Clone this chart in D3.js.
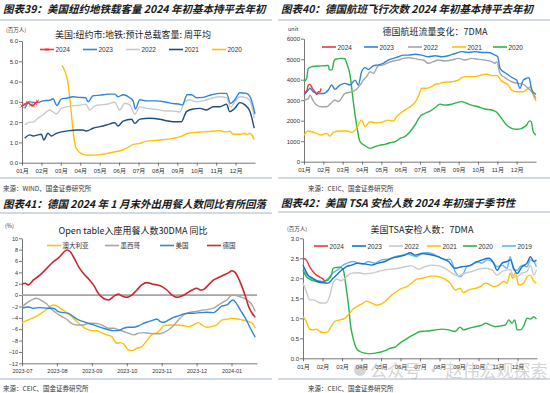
<!DOCTYPE html>
<html>
<head>
<meta charset="utf-8">
<script src="https://cdn.jsdelivr.net/npm/d3@7/dist/d3.min.js"></script>
<style>
  body { margin: 0; background: #fff; }
  svg { display: block; font-family: "Liberation Sans", "Noto Sans CJK SC", sans-serif; }
</style>
</head>
<body>
<svg width="550" height="393"></svg>
<script>
// ---- data (x = months from start of window, y = value) ----
const monthLabels = ["01月","02月","03月","04月","05月","06月","07月","08月","09月","10月","11月","12月"];
const dineLabels = ["2023-07","2023-08","2023-09","2023-10","2023-11","2023-12","2024-01"];

// 图表39 NYC subway, 百万人
const subway2024 = [[0,2.8],[0.15,2.88],[0.3,2.97],[0.45,2.85],[0.57,2.82],[0.68,2.92],[0.8,3.03]];
const subway2023 = [[0.14,2.68],[0.4,3.0],[0.74,2.95],[1.08,3.05],[1.43,3.08],[1.6,3.15],[1.8,2.82],[2.03,3.15],[2.29,3.18],[2.63,3.25],[2.97,3.22],[3.28,3.2],[3.4,3.0],[3.66,3.3],[4.02,3.33],[4.43,3.38],[4.78,3.38],[4.95,3.25],[5.21,3.35],[5.55,3.2],[5.72,3.05],[5.84,2.65],[6.07,3.1],[6.41,3.05],[6.92,3.05],[7.44,2.98],[7.78,2.92],[8.13,2.88],[8.26,2.85],[8.51,3.35],[8.73,3.35],[8.99,3.2],[9.33,3.22],[9.76,3.35],[10.19,3.42],[10.53,3.42],[10.74,2.92],[10.96,3.1],[11.22,3.45],[11.56,3.42],[11.77,3.2],[12,2.4]];
const subway2022 = [[0.14,1.86],[0.4,2.0],[0.57,2.0],[0.82,2.2],[1.08,2.35],[1.43,2.6],[1.6,2.5],[1.77,2.4],[2.03,2.68],[2.29,2.75],[2.63,2.8],[3.06,2.85],[3.28,2.88],[3.49,2.6],[3.75,2.8],[4.02,2.85],[4.35,2.88],[4.78,2.98],[5.03,2.6],[5.29,2.93],[5.55,2.85],[5.81,2.4],[6.07,2.75],[6.41,2.68],[6.92,2.63],[7.44,2.55],[7.78,2.55],[8.13,2.5],[8.38,3.0],[8.64,3.1],[8.99,3.0],[9.33,3.05],[9.76,3.18],[10.19,3.25],[10.53,3.2],[10.74,2.75],[10.96,3.0],[11.22,3.25],[11.56,3.2],[11.77,3.0],[11.96,2.2]];
const subway2021 = [[0.14,1.2],[0.4,1.37],[0.57,1.32],[0.82,1.37],[1.0,1.4],[1.12,1.12],[1.34,1.45],[1.51,1.32],[1.77,1.45],[2.11,1.53],[2.46,1.58],[2.8,1.61],[3.14,1.61],[3.32,1.56],[3.66,1.7],[4.02,1.78],[4.35,1.86],[4.78,1.97],[4.95,1.81],[5.21,2.05],[5.64,2.14],[5.81,1.94],[6.07,2.15],[6.58,2.19],[7.1,2.14],[7.44,2.07],[7.78,2.02],[8.21,2.02],[8.47,2.52],[8.81,2.65],[9.16,2.68],[9.5,2.6],[9.85,2.76],[10.19,2.76],[10.53,2.88],[10.7,2.52],[10.96,2.68],[11.22,2.96],[11.48,2.85],[11.74,2.52],[11.96,1.7]];
const subway2020 = [[2.06,4.8],[2.34,4.1],[2.77,0.75],[3.06,0.45],[3.4,0.37],[4.02,0.4],[4.35,0.45],[4.86,0.55],[5.12,0.6],[5.46,0.75],[5.72,0.9],[6.07,0.95],[6.41,1.05],[6.92,1.1],[7.44,1.15],[7.78,1.2],[8.21,1.3],[8.56,1.45],[8.99,1.5],[9.33,1.52],[9.76,1.55],[10.19,1.58],[10.45,1.52],[10.7,1.55],[10.88,1.4],[11.22,1.4],[11.48,1.45],[11.56,1.38],[11.74,1.45],[11.96,1.15]];

// 图表40 German flights, 7DMA
const flights2024 = [[0,3370],[0.14,3450],[0.22,3740],[0.31,3770],[0.43,3580],[0.57,3410],[0.66,3280],[0.74,3410],[0.83,3410],[0.88,3580]];
const flights2023 = [[0,3250],[0.22,3500],[0.31,3580],[0.48,3410],[0.74,3330],[1.0,3330],[1.26,3500],[1.43,3740],[1.6,3530],[1.86,3740],[2.12,3820],[2.38,3740],[2.64,3980],[2.81,3740],[2.98,4390],[3.16,4590],[3.33,4500],[3.59,4680],[3.84,4720],[4.1,4800],[4.36,4960],[4.62,5040],[4.88,5120],[5.14,5200],[5.4,5200],[5.74,5240],[6.09,5200],[6.43,5120],[6.78,5170],[7.12,5120],[7.47,5170],[7.81,5280],[8.16,5370],[8.5,5330],[8.84,5370],[9.19,5330],[9.53,5330],[9.88,5200],[10.02,5120],[10.14,4550],[10.4,4340],[10.57,4230],[10.83,4070],[11.0,3980],[11.17,3580],[11.34,3980],[11.52,4070],[11.64,4100],[11.78,3500],[12,3280]];
const flights2022 = [[0,3010],[0.22,3060],[0.31,3250],[0.48,2960],[0.66,2760],[0.91,2680],[1.17,2680],[1.43,2890],[1.6,3010],[1.78,2930],[2.12,3330],[2.47,3410],[2.72,3530],[2.9,3740],[3.07,3980],[3.24,4150],[3.41,4390],[3.59,4310],[3.84,4680],[4.1,4720],[4.36,4830],[4.62,4910],[4.88,4960],[5.14,5040],[5.4,5070],[5.66,5040],[5.91,4990],[6.17,4960],[6.43,4800],[6.69,4880],[6.95,4960],[7.29,4910],[7.64,4960],[7.98,5040],[8.33,4960],[8.67,5040],[9.02,4990],[9.36,4960],[9.71,4880],[9.88,4800],[9.97,4880],[10.14,4310],[10.4,4100],[10.74,3900],[11.09,3820],[11.34,3770],[11.6,3580],[11.78,3410],[12,3090]];
const flights2021 = [[0,1300],[0.22,1500],[0.4,1460],[0.66,1380],[0.91,1300],[1.17,1380],[1.34,1250],[1.52,1430],[1.86,1500],[2.21,1500],[2.47,1430],[2.72,1630],[2.98,2030],[3.16,1710],[3.41,1950],[3.67,1900],[4.02,1920],[4.36,2030],[4.62,1980],[4.79,2200],[5.05,2410],[5.4,2630],[5.74,2890],[5.91,3170],[6.09,3580],[6.34,3580],[6.6,3660],[6.78,3770],[7.03,3820],[7.21,3870],[7.64,3900],[7.98,3980],[8.16,4100],[8.41,4150],[8.84,4150],[9.19,4230],[9.45,4280],[9.71,4200],[9.97,4200],[10.22,3930],[10.57,3740],[10.74,3500],[11.0,3410],[11.34,3410],[11.6,3580],[11.74,3660],[11.86,3250],[12,2960]];
const flights2020 = [[0,3900],[0.14,4070],[0.22,4550],[0.4,4630],[0.74,4670],[1.09,4680],[1.26,4700],[1.31,4480],[1.45,4480],[1.55,4900],[1.62,5000],[1.95,5040],[2.12,5020],[2.21,4800],[2.38,4230],[2.55,2930],[2.72,1790],[2.9,975],[3.16,780],[3.41,650],[3.67,730],[3.93,810],[4.19,845],[4.45,925],[4.71,975],[4.97,1140],[5.22,1220],[5.48,1460],[5.74,1790],[6.0,2200],[6.26,2360],[6.52,2470],[6.78,2630],[7.03,2810],[7.29,2760],[7.64,2800],[7.9,2880],[8.16,2930],[8.41,2850],[8.67,2760],[9.02,2680],[9.36,2570],[9.71,2520],[9.97,2410],[10.22,2110],[10.48,1790],[10.74,1630],[11.0,1580],[11.26,1630],[11.52,1790],[11.64,1980],[11.74,1980],[11.86,1460],[12,1300]];

// 图表41 OpenTable seated diners, 30DMA yoy %
const dineAustralia = [[0,-4.84],[0.18,-4.37],[0.33,-3.96],[0.52,-3.31],[0.71,-2.5],[0.8,-2.0],[0.9,-1.73],[0.99,-1.9],[1.14,-2.5],[1.28,-3.08],[1.42,-3.78],[1.57,-4.66],[1.71,-5.4],[1.85,-6.0],[2.0,-6.25],[2.14,-6.25],[2.28,-6.6],[2.43,-7.0],[2.57,-7.3],[2.72,-8.5],[2.81,-8.36],[2.91,-8.6],[3.05,-9.65],[3.15,-9.77],[3.29,-9.35],[3.43,-9.06],[3.58,-8.0],[3.72,-6.9],[3.86,-6.6],[3.96,-6.1],[4.05,-5.4],[4.2,-5.25],[4.34,-5.25],[4.48,-5.25],[4.63,-5.4],[4.77,-5.54],[4.91,-5.25],[5.06,-4.84],[5.15,-5.25],[5.3,-5.66],[5.44,-5.54],[5.58,-5.25],[5.73,-4.37],[5.87,-4.25],[6.01,-4.08],[6.16,-4.2],[6.3,-4.37],[6.44,-4.55],[6.59,-4.96],[6.68,-5.83]];
const dineMexico = [[0,-2.1],[0.13,-1.4],[0.28,-0.85],[0.42,-0.56],[0.56,-0.97],[0.71,-1.55],[0.85,-2.5],[0.99,-3.2],[1.14,-3.78],[1.28,-4.25],[1.42,-4.96],[1.57,-5.25],[1.76,-5.25],[1.9,-4.96],[2.05,-4.96],[2.19,-5.07],[2.33,-5.4],[2.48,-5.83],[2.62,-5.83],[2.76,-6.1],[2.91,-6.4],[3.05,-6.7],[3.19,-7.0],[3.34,-6.7],[3.48,-6.6],[3.62,-6.7],[3.77,-6.8],[3.91,-6.8],[4.05,-6.6],[4.2,-6.1],[4.34,-5.4],[4.48,-4.37],[4.63,-3.5],[4.77,-3.08],[4.91,-2.9],[5.06,-2.8],[5.2,-2.6],[5.34,-2.5],[5.49,-2.3],[5.63,-1.73],[5.78,-1.14],[5.87,-0.85],[5.97,-0.15],[6.06,0.03],[6.18,-0.15],[6.3,-0.4],[6.44,-0.85],[6.59,-1.73],[6.68,-2.9]];
const dineUS = [[0,-2.3],[0.18,-2.1],[0.33,-2.3],[0.52,-2.2],[0.71,-2.3],[0.9,-2.3],[1.04,-2.9],[1.19,-3.08],[1.33,-3.2],[1.47,-3.78],[1.62,-4.37],[1.76,-4.66],[1.9,-4.96],[2.05,-5.25],[2.19,-5.54],[2.33,-5.83],[2.48,-6.1],[2.62,-6.25],[2.76,-6.25],[2.91,-5.83],[3.05,-5.66],[3.19,-5.66],[3.34,-5.4],[3.48,-4.96],[3.62,-4.66],[3.77,-4.37],[3.86,-4.2],[3.96,-4.66],[4.05,-4.78],[4.2,-4.37],[4.34,-3.9],[4.48,-3.66],[4.63,-3.31],[4.77,-3.2],[4.91,-3.2],[5.11,-3.08],[5.3,-3.02],[5.49,-3.08],[5.58,-2.73],[5.73,-1.9],[5.87,-1.73],[5.97,-1.14],[6.04,-0.85],[6.14,-1.44],[6.25,-2.6],[6.4,-4.08],[6.54,-5.83],[6.68,-7.4]];
const dineGermany = [[0,1.96],[0.09,2.1],[0.18,1.8],[0.33,2.67],[0.52,3.55],[0.71,4.7],[0.9,5.9],[1.04,6.5],[1.19,7.5],[1.28,7.95],[1.38,7.65],[1.47,6.8],[1.62,5.0],[1.76,3.8],[1.9,2.9],[2.05,1.76],[2.19,0.3],[2.33,-0.56],[2.48,-0.85],[2.62,-0.26],[2.76,0.2],[2.86,-0.15],[3.0,-0.4],[3.15,0.03],[3.29,0.9],[3.43,1.8],[3.58,2.2],[3.72,1.96],[3.86,1.8],[4.01,1.5],[4.15,0.9],[4.29,0.03],[4.44,-0.4],[4.58,-0.15],[4.72,0.33],[4.87,0.9],[5.01,1.2],[5.11,0.9],[5.2,1.0],[5.34,1.8],[5.49,2.67],[5.63,3.1],[5.78,3.55],[5.92,3.96],[6.01,4.3],[6.11,3.96],[6.2,2.96],[6.3,1.5],[6.4,-0.26],[6.49,-2.0],[6.59,-3.2],[6.68,-3.9]];

// 图表42 TSA throughput, 7DMA 百万人
const tsa2024 = [[0,2.5],[0.17,2.46],[0.34,2.29],[0.51,2.17],[0.69,2.08],[0.86,2.03],[1.03,1.98],[1.11,1.93]];
const tsa2023 = [[0,2.33],[0.26,2.08],[0.51,2.0],[0.77,1.92],[1.03,1.89],[1.29,1.88],[1.54,2.0],[1.72,2.08],[1.97,2.2],[2.23,2.29],[2.49,2.33],[2.83,2.38],[3.17,2.36],[3.52,2.33],[3.86,2.38],[4.2,2.42],[4.55,2.5],[4.89,2.54],[5.23,2.58],[5.49,2.64],[5.75,2.58],[6.09,2.62],[6.43,2.6],[6.78,2.56],[7.12,2.5],[7.46,2.42],[7.8,2.25],[8.15,2.29],[8.49,2.31],[8.83,2.39],[9.18,2.46],[9.52,2.5],[9.78,2.38],[9.95,2.2],[10.21,2.38],[10.46,2.42],[10.63,2.46],[10.81,2.25],[10.98,2.12],[11.23,2.29],[11.49,2.38],[11.66,2.54],[11.84,2.42],[11.97,2.46]];
const tsa2022 = [[0,1.88],[0.17,1.67],[0.34,1.46],[0.51,1.46],[0.69,1.43],[0.86,1.39],[1.03,1.38],[1.2,1.39],[1.37,1.56],[1.54,1.88],[1.72,1.98],[1.97,1.94],[2.23,2.04],[2.49,2.13],[2.83,2.14],[3.17,2.11],[3.52,2.13],[3.86,2.17],[4.2,2.21],[4.55,2.23],[4.89,2.25],[5.23,2.29],[5.57,2.31],[5.92,2.23],[6.26,2.29],[6.6,2.33],[6.95,2.31],[7.29,2.25],[7.63,2.13],[7.98,2.06],[8.32,2.13],[8.66,2.17],[9.0,2.23],[9.35,2.25],[9.69,2.21],[9.95,2.08],[10.21,2.17],[10.46,2.21],[10.63,2.22],[10.81,2.03],[10.98,2.04],[11.23,2.13],[11.49,2.17],[11.66,2.33],[11.84,2.08],[11.97,2.21]];
const tsa2021 = [[0,1.04],[0.17,0.92],[0.34,0.73],[0.51,0.71],[0.69,0.73],[0.86,0.67],[1.11,0.64],[1.29,0.67],[1.46,0.81],[1.63,0.92],[1.89,0.96],[2.14,1.0],[2.4,1.13],[2.57,1.23],[2.83,1.31],[3.09,1.38],[3.26,1.43],[3.52,1.38],[3.77,1.33],[4.03,1.36],[4.29,1.46],[4.55,1.58],[4.8,1.67],[5.06,1.75],[5.32,1.79],[5.57,1.88],[5.83,1.98],[6.09,2.0],[6.35,2.03],[6.6,2.06],[6.95,2.04],[7.29,1.98],[7.55,1.88],[7.8,1.71],[8.06,1.75],[8.23,1.64],[8.49,1.71],[8.83,1.75],[9.09,1.79],[9.35,1.88],[9.61,1.83],[9.78,1.79],[10.03,1.83],[10.29,1.92],[10.46,1.88],[10.63,2.13],[10.75,2.0],[10.89,2.14],[11.06,1.83],[11.32,1.88],[11.49,2.04],[11.66,2.08],[11.84,1.92],[11.97,1.88]];
const tsa2020 = [[0,2.2],[0.17,2.04],[0.34,1.98],[0.51,1.94],[0.69,1.92],[0.94,1.89],[1.11,1.93],[1.29,1.96],[1.46,2.08],[1.54,2.25],[1.72,2.27],[1.89,2.28],[2.06,2.22],[2.18,1.88],[2.32,1.38],[2.45,0.79],[2.57,0.5],[2.74,0.25],[2.92,0.17],[3.17,0.13],[3.43,0.11],[3.69,0.13],[3.95,0.15],[4.2,0.19],[4.46,0.25],[4.72,0.28],[4.97,0.38],[5.23,0.46],[5.49,0.54],[5.75,0.61],[6.0,0.67],[6.26,0.68],[6.52,0.69],[6.78,0.71],[7.12,0.73],[7.46,0.71],[7.8,0.67],[8.06,0.78],[8.23,0.71],[8.49,0.75],[8.83,0.79],[9.18,0.83],[9.35,0.88],[9.61,0.83],[9.86,0.79],[10.12,0.81],[10.38,0.83],[10.55,0.96],[10.72,0.88],[10.86,0.96],[10.98,0.71],[11.15,0.71],[11.32,0.81],[11.49,1.0],[11.66,0.98],[11.84,1.04],[11.97,0.98]];
const tsa2019 = [[0,2.2],[0.26,2.06],[0.51,1.98],[0.77,1.94],[1.03,1.92],[1.29,2.0],[1.54,2.14],[1.8,2.22],[2.06,2.33],[2.32,2.39],[2.57,2.42],[2.83,2.38],[3.09,2.35],[3.34,2.42],[3.69,2.38],[4.03,2.46],[4.37,2.48],[4.72,2.54],[5.06,2.58],[5.32,2.61],[5.57,2.58],[5.83,2.54],[6.09,2.62],[6.35,2.64],[6.6,2.62],[6.95,2.54],[7.29,2.46],[7.55,2.48],[7.8,2.17],[8.06,2.04],[8.23,2.12],[8.4,2.29],[8.66,2.33],[8.92,2.42],[9.18,2.38],[9.43,2.46],[9.69,2.42],[9.95,2.29],[10.21,2.33],[10.46,2.25],[10.63,2.54],[10.81,2.2],[10.98,2.2],[11.23,2.33],[11.49,2.29],[11.66,2.46],[11.84,2.42],[11.97,2.29]];

const RED = "#e8383d", BLUE = "#2f86d4", NAVY = "#1f4e79", LGRAY = "#c9c9c9", GRAY = "#a6a6a6",
      YELLOW = "#ffc000", GREEN = "#2cb34a", SKY = "#5cb8f2", DRED = "#c8282e";

const svg = d3.select("svg");
const cjk = "'Noto Sans CJK SC', sans-serif";

function drawPanel(o) {
  const g = svg.append("g");
  const x = d3.scaleLinear().domain(o.xDomain).range([o.left, o.right]);
  const y = d3.scaleLinear().domain(o.yDomain).range([o.bottom, o.top]);

  const xAxis = g.append("g")
    .attr("transform", `translate(0,${o.bottom})`)
    .call(d3.axisBottom(x).tickValues(o.xLabels.map((d, i) => i))
      .tickFormat((d, i) => o.xLabels[i]).tickSize(3).tickSizeOuter(0));
  const yAxis = g.append("g")
    .attr("transform", `translate(${o.left},0)`)
    .call(d3.axisLeft(y).tickValues(d3.range(o.yDomain[0], o.yDomain[1] + o.yStep / 2, o.yStep))
      .tickFormat(o.yFormat).tickSize(3).tickSizeOuter(0));
  [xAxis, yAxis].forEach(a => {
    a.select(".domain").attr("stroke", "#555").attr("stroke-width", 0.8);
    a.selectAll(".tick line").attr("stroke", "#555").attr("stroke-width", 0.8);
    a.selectAll("text").attr("fill", "#333").style("font-size", o.tickFont || "7px")
      .style("font-family", "'Liberation Sans', 'Noto Sans CJK SC', sans-serif");
  });
  yAxis.selectAll("text").attr("x", -4);

  if (o.zeroLine) {
    g.append("line").attr("x1", o.left).attr("x2", o.right)
      .attr("y1", y(0)).attr("y2", y(0)).attr("stroke", "#a5a5a5").attr("stroke-width", 1.8);
  }

  const line = d3.line().x(d => x(d[0])).y(d => y(d[1])).curve(d3.curveMonotoneX);
  o.series.forEach(s => {
    g.append("path").datum(s.data).attr("d", line)
      .attr("fill", "none").attr("stroke", s.color).attr("stroke-width", s.width || 1.4)
      .attr("stroke-linejoin", "round");
    if (s.marker) {
      g.selectAll(null).data(s.data).join("path")
        .attr("d", d => `M${x(d[0]) - 1.6},${y(d[1]) - 1.6}L${x(d[0]) + 1.6},${y(d[1]) + 1.6}M${x(d[0]) - 1.6},${y(d[1]) + 1.6}L${x(d[0]) + 1.6},${y(d[1]) - 1.6}`)
        .attr("stroke", s.color).attr("stroke-width", 0.9);
    }
  });

  // legend
  o.series.forEach(s => {
    const lg = g.append("g").attr("transform", `translate(${s.lx},${o.legendY})`);
    lg.append("line").attr("x1", 0).attr("x2", 14).attr("stroke", s.color).attr("stroke-width", 1.6);
    if (s.marker) {
      lg.append("path").attr("d", "M5.4,-1.6L8.6,1.6M5.4,1.6L8.6,-1.6").attr("stroke", s.color).attr("stroke-width", 0.9);
    }
    lg.append("text").attr("x", 15.5).attr("y", 2.5).text(s.name)
      .style("font-size", "6.5px").style("font-family", o.legendFont || "'Liberation Sans', sans-serif").attr("fill", "#333");
  });

  // chart title and unit
  g.append("text").attr("x", o.titleX).attr("y", o.titleY).attr("text-anchor", "middle")
    .style("font-family", cjk).style("font-size", "9px").attr("fill", "#222").text(o.chartTitle);
  g.append("text").attr("x", o.unitX).attr("y", o.unitY)
    .style("font-family", cjk).style("font-size", "5.5px").attr("fill", "#333").text(o.unit);
}

// panel headers, rules and sources
function header(x0, x1, titleY, ruleY, srcRuleY, srcY, title, source) {
  svg.append("text").attr("x", x0 + 3).attr("y", titleY)
    .style("font-family", cjk).style("font-size", "10.5px").style("font-weight", "bold")
    .style("font-style", "italic").attr("fill", "#1a1a1a").text(title);
  svg.append("line").attr("x1", x0).attr("x2", x1).attr("y1", ruleY).attr("y2", ruleY)
    .attr("stroke", "#8ea3bb").attr("stroke-width", 0.8);
  svg.append("line").attr("x1", x0).attr("x2", x1).attr("y1", srcRuleY).attr("y2", srcRuleY)
    .attr("stroke", "#8ea3bb").attr("stroke-width", 0.8);
  svg.append("text").attr("x", x0 + (x0 > 0 ? 30 : 3)).attr("y", srcY)
    .style("font-family", cjk).style("font-size", "6.5px").attr("fill", "#333").text(source);
}

header(0, 272, 13, 20, 178, 191, "图表39：美国纽约地铁载客量 2024 年初基本持平去年初", "来源：WIND、国金证券研究所");
header(278, 550, 13, 20, 178, 191, "图表40：德国航班飞行次数 2024 年初基本持平去年初", "来源：CEIC、国金证券研究所");
header(0, 272, 208, 213, 379, 391, "图表41：德国 2024 年 1 月末外出用餐人数同比有所回落", "来源：CEIC、国金证券研究所");
header(278, 550, 207, 212, 379, 391, "图表42：美国 TSA 安检人数 2024 年初强于季节性", "来源：CEIC、国金证券研究所");

drawPanel({
  left: 22, right: 255, top: 41, bottom: 162.7,
  xDomain: [0, 12], yDomain: [0, 6], yStep: 1, yFormat: d3.format(".1f"),
  xLabels: monthLabels, tickFont: "6px",
  chartTitle: "美国:纽约市:地铁:预计总载客量: 周平均", titleX: 133, titleY: 38,
  unit: "(百万人)", unitX: 6, unitY: 32, legendY: 49.5,
  series: [
    { name: "2020", data: subway2020, color: YELLOW, lx: 212 },
    { name: "2021", data: subway2021, color: NAVY, lx: 169 },
    { name: "2022", data: subway2022, color: LGRAY, lx: 126 },
    { name: "2023", data: subway2023, color: BLUE, lx: 83 },
    { name: "2024", data: subway2024, color: RED, lx: 40, marker: true }
  ]
});

drawPanel({
  left: 304, right: 536, top: 38.7, bottom: 161.7,
  xDomain: [0, 12], yDomain: [0, 6000], yStep: 1000, yFormat: d3.format("d"),
  xLabels: monthLabels, tickFont: "6px",
  chartTitle: "德国航班流量变化：7DMA", titleX: 435, titleY: 35,
  unit: "unit", unitX: 288, unitY: 31, legendY: 47,
  series: [
    { name: "2020", data: flights2020, color: GREEN, lx: 493 },
    { name: "2021", data: flights2021, color: YELLOW, lx: 452 },
    { name: "2022", data: flights2022, color: GRAY, lx: 408 },
    { name: "2023", data: flights2023, color: BLUE, lx: 364 },
    { name: "2024", data: flights2024, color: RED, lx: 322 }
  ]
});

drawPanel({
  left: 22, right: 257, top: 238.3, bottom: 363.3,
  xDomain: [0, 6.73], yDomain: [-12, 10], yStep: 2, yFormat: d3.format("d"),
  xLabels: dineLabels, tickFont: "5.5px", zeroLine: true,
  chartTitle: "Open table入座用餐人数30DMA 同比", titleX: 133, titleY: 234,
  unit: "(%)", unitX: 5, unitY: 228, legendY: 245.5, legendFont: cjk,
  series: [
    { name: "澳大利亚", data: dineAustralia, color: YELLOW, lx: 47 },
    { name: "墨西哥", data: dineMexico, color: GRAY, lx: 105 },
    { name: "美国", data: dineUS, color: BLUE, lx: 160 },
    { name: "德国", data: dineGermany, color: DRED, lx: 207, width: 1.6 }
  ]
});

drawPanel({
  left: 303, right: 537, top: 238.3, bottom: 358.3,
  xDomain: [0, 12], yDomain: [0, 3], yStep: 0.5, yFormat: d3.format(".1f"),
  xLabels: monthLabels, tickFont: "6px",
  chartTitle: "美国TSA安检人数：7DMA", titleX: 422, titleY: 233,
  unit: "(百万人)", unitX: 287, unitY: 231, legendY: 246,
  series: [
    { name: "2019", data: tsa2019, color: SKY, lx: 502 },
    { name: "2020", data: tsa2020, color: GREEN, lx: 463 },
    { name: "2021", data: tsa2021, color: YELLOW, lx: 427 },
    { name: "2022", data: tsa2022, color: LGRAY, lx: 389 },
    { name: "2023", data: tsa2023, color: "#1f6fc5", lx: 352 },
    { name: "2024", data: tsa2024, color: RED, lx: 314 }
  ]
});

// watermark
svg.append("circle").attr("cx", 360).attr("cy", 370).attr("r", 6).attr("fill", "#888").attr("opacity", 0.35);
svg.append("text").attr("x", 370).attr("y", 377).text("公众号 · 赵伟宏观探索")
  .style("font-family", cjk).style("font-size", "17px").attr("fill", "#888").attr("opacity", 0.35);
</script>
</body>
</html>
